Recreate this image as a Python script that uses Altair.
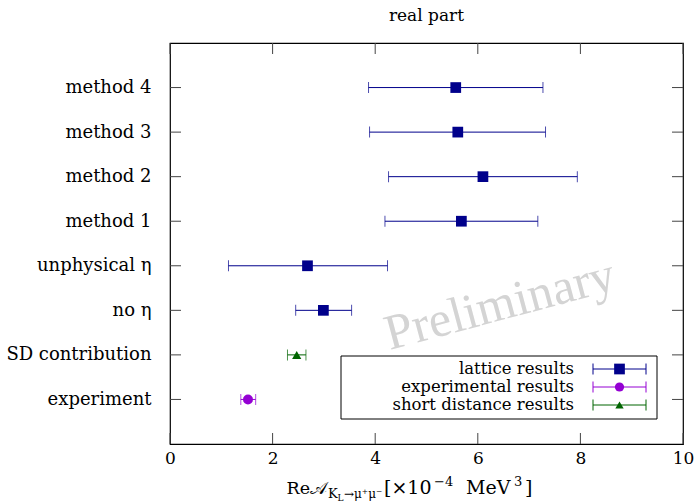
import altair as alt
import pandas as pd

# ---- data ----
labels = ["method 4", "method 3", "method 2", "method 1",
          "unphysical η", "no η", "SD contribution", "experiment"]
series = ["lattice", "lattice", "lattice", "lattice",
          "lattice", "lattice", "short distance", "experimental"]
centers = [5.57, 5.61, 6.10, 5.68, 2.68, 2.99, 2.47, 1.52]
lows = [3.87, 3.89, 4.26, 4.19, 1.14, 2.45, 2.29, 1.38]
highs = [7.27, 7.32, 7.94, 7.17, 4.24, 3.54, 2.65, 1.67]
x_ticks = [0, 2, 4, 6, 8, 10]

series_names = ["lattice", "experimental", "short distance"]
legend_labels = ["lattice results", "experimental results", "short distance results"]
series_colors = ["#00008b", "#9400d3", "#006400"]
series_shapes = ["square", "circle", "triangle-up"]
series_sizes = [115, 85, 70]

df = pd.DataFrame({"label": labels, "series": series, "val": centers,
                   "lo": lows, "hi": highs})
xt = pd.DataFrame({"t": x_ticks})
yt = pd.DataFrame({"label": labels})
ann = alt.Chart(pd.DataFrame({"k": [0]}))

W, H = 513, 401
FONT = "DejaVu Serif"
FS = 17

xscale = alt.Scale(domain=[0, 10], nice=False, zero=False)
yscale = alt.Scale(type="point", padding=1, domain=labels)

xaxis = alt.Axis(values=x_ticks, ticks=False, domain=False, grid=False,
                 labelFlush=False, labelPadding=6, title=None, format="d",
                 labelFont=FONT, labelFontSize=FS, labelColor="black")
yaxis = alt.Axis(ticks=False, domain=False, grid=False, labelPadding=19,
                 title=None, labelFont=FONT, labelFontSize=18,
                 labelColor="black", labelLimit=300)

color = alt.Color("series:N", scale=alt.Scale(domain=series_names, range=series_colors), legend=None)
shape = alt.Shape("series:N", scale=alt.Scale(domain=series_names, range=series_shapes), legend=None)
size = alt.Size("series:N", scale=alt.Scale(domain=series_names, range=series_sizes), legend=None)

base = alt.Chart(df)

watermark = ann.mark_text(text="Preliminary", font="Liberation Serif", fontSize=50,
                          color="#d4d4d4", angle=345, align="center",
                          baseline="middle").encode(x=alt.value(330), y=alt.value(262))

bars = base.mark_rule(strokeWidth=1).encode(
    x=alt.X("lo:Q", scale=xscale, axis=xaxis),
    x2="hi:Q",
    y=alt.Y("label:N", scale=yscale, axis=yaxis, sort=labels),
    color=color)

cap_lo = base.mark_tick(size=11, thickness=1).encode(
    x=alt.X("lo:Q", scale=xscale), y=alt.Y("label:N", scale=yscale, sort=labels), color=color)
cap_hi = base.mark_tick(size=11, thickness=1).encode(
    x=alt.X("hi:Q", scale=xscale), y=alt.Y("label:N", scale=yscale, sort=labels), color=color)

points = base.mark_point(filled=True, opacity=1).encode(
    x=alt.X("val:Q", scale=xscale), y=alt.Y("label:N", scale=yscale, sort=labels),
    color=color, shape=shape, size=size)

TK = 11
tick_col = "#444444"
bt = alt.Chart(xt).mark_rule(color=tick_col, strokeWidth=1).encode(
    x=alt.X("t:Q", scale=xscale), y=alt.value(H - TK), y2=alt.value(H))
tt = alt.Chart(xt).mark_rule(color=tick_col, strokeWidth=1).encode(
    x=alt.X("t:Q", scale=xscale), y=alt.value(0), y2=alt.value(TK))
lt = alt.Chart(yt).mark_rule(color=tick_col, strokeWidth=1).encode(
    y=alt.Y("label:N", scale=yscale, sort=labels), x=alt.value(0), x2=alt.value(TK))
rt = alt.Chart(yt).mark_rule(color=tick_col, strokeWidth=1).encode(
    y=alt.Y("label:N", scale=yscale, sort=labels), x=alt.value(W - TK), x2=alt.value(W))

layers = [watermark, bars, cap_lo, cap_hi, points, bt, tt, lt, rt]

# legend
layers.append(ann.mark_rect(fill="white", stroke="black", strokeWidth=1).encode(
    x=alt.value(171), x2=alt.value(487), y=alt.value(313), y2=alt.value(376)))
row_y = [326, 344, 362]
for i in range(3):
    yy = row_y[i]
    c = series_colors[i]
    layers.append(ann.mark_text(text=legend_labels[i], font=FONT, fontSize=16.5,
                                align="right", baseline="middle", color="black").encode(
        x=alt.value(404), y=alt.value(yy)))
    layers.append(ann.mark_rule(color=c, strokeWidth=1).encode(
        x=alt.value(423), x2=alt.value(476), y=alt.value(yy)))
    for xx in (423, 476):
        layers.append(ann.mark_rule(color=c, strokeWidth=1).encode(
            x=alt.value(xx), y=alt.value(yy - 5.5), y2=alt.value(yy + 5.5)))
    layers.append(ann.mark_point(shape=series_shapes[i], filled=True, opacity=1,
                                 size=series_sizes[i], color=c).encode(
        x=alt.value(449.5), y=alt.value(yy)))

# title
layers.append(ann.mark_text(text="real part", font=FONT, fontSize=FS, color="black",
                            align="center", baseline="middle").encode(
    x=alt.value(256.5), y=alt.value(-27)))

# x axis title pieces
def piece(txt, x, y, fs, align="left"):
    return ann.mark_text(text=txt, font=FONT, fontSize=fs, color="black",
                         align=align, baseline="alphabetic").encode(
        x=alt.value(x), y=alt.value(y))

layers += [
    piece("Re𝒜", 157, 451, 17.5, "right"),
    piece("K", 158, 455, 13),
    piece("L", 167.5, 458, 9),
    piece("→μ⁺μ⁻", 174, 455, 12),
    piece("[×10", 214, 451, 19),
    piece("−4", 264, 443, 13),
    piece("MeV", 296, 451, 19),
    piece("3", 344, 443, 13),
    piece("]", 355, 451, 19),
]

chart = alt.layer(*layers).properties(
    width=W, height=H,
    autosize=alt.AutoSizeParams(type="none"),
    padding={"left": 170, "top": 43, "right": 12, "bottom": 58},
).configure_view(stroke="black", strokeWidth=1.2)

chart.save("out.html", embed_options={"renderer": "svg", "actions": False})
